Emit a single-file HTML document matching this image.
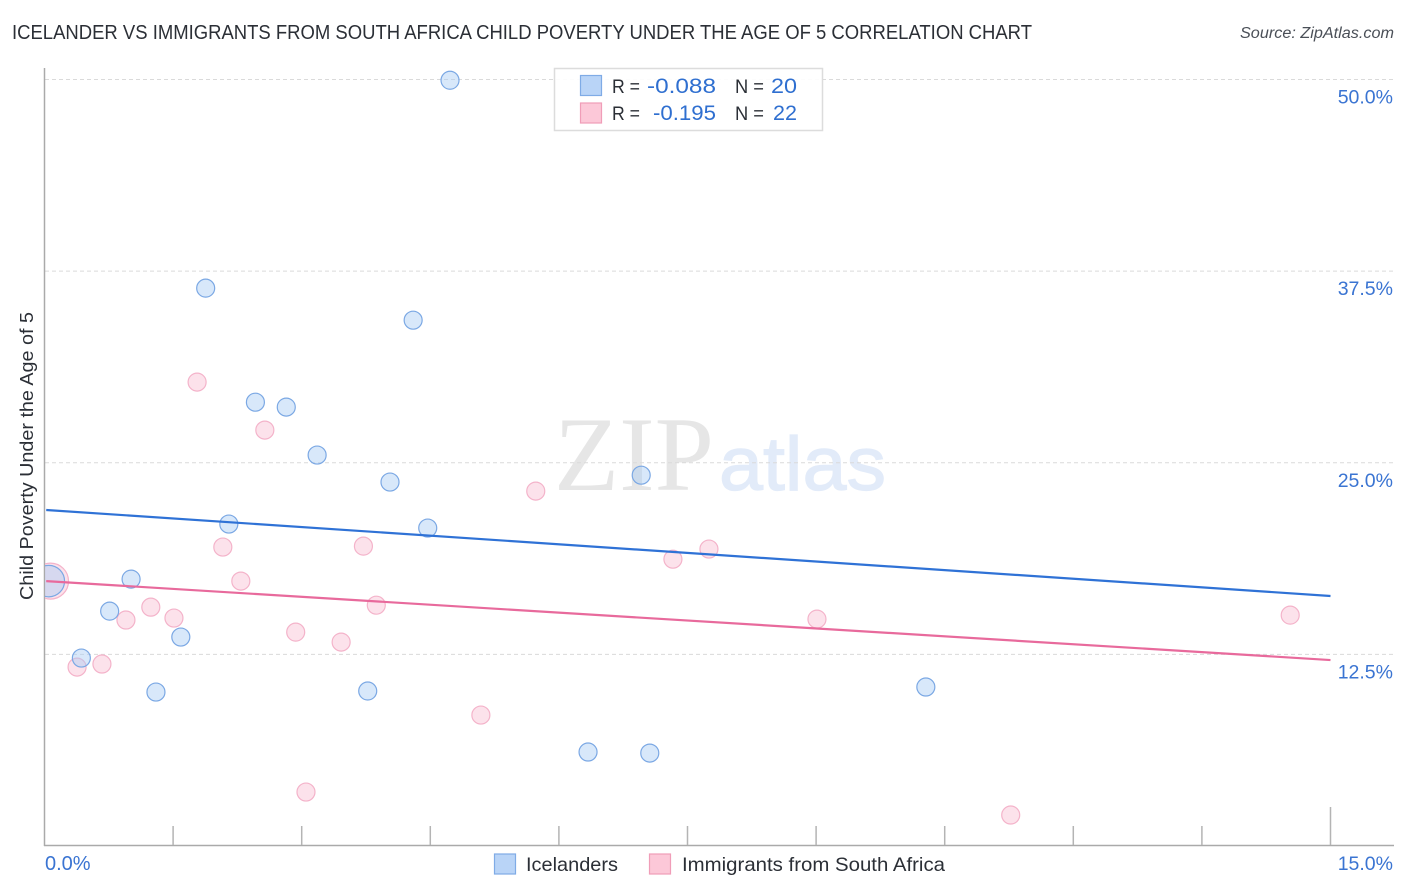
<!DOCTYPE html>
<html lang="en">
<head>
<meta charset="utf-8">
<title>Icelander vs Immigrants from South Africa Child Poverty Correlation Chart</title>
<style>
html,body{margin:0;padding:0;background:#fff;width:1406px;height:892px;overflow:hidden}
svg{display:block}
text{font-family:"Liberation Sans",sans-serif}
</style>
</head>
<body>
<svg id="chart" width="1406" height="892" viewBox="0 0 1406 892" xmlns="http://www.w3.org/2000/svg">
  <defs>
    <clipPath id="plot-clip"><rect x="45" y="60" width="1349" height="786"/></clipPath>
  </defs>
  <rect x="0" y="0" width="1406" height="892" fill="#ffffff"/>
  <text x="12" y="39" font-size="20" fill="#2b2f36" textLength="1020" lengthAdjust="spacingAndGlyphs">ICELANDER VS IMMIGRANTS FROM SOUTH AFRICA CHILD POVERTY UNDER THE AGE OF 5 CORRELATION CHART</text>
  <text x="1394" y="38" font-size="15.5" font-style="italic" fill="#4a4f57" text-anchor="end" textLength="154" lengthAdjust="spacingAndGlyphs">Source: ZipAtlas.com</text>
  <g>
    <text x="554" y="490" font-size="106" fill="#e6e6e6" textLength="160" lengthAdjust="spacingAndGlyphs" style="font-family:'Liberation Serif',serif">ZIP</text>
    <text x="719" y="490" font-size="76" fill="#e2ebf9" stroke="#e2ebf9" stroke-width="1.2" textLength="167" lengthAdjust="spacingAndGlyphs">atlas</text>
  </g>
  <g id="grid"></g>
  <g id="axes"></g>
  <g id="series-pink" clip-path="url(#plot-clip)"></g>
  <g id="series-blue" clip-path="url(#plot-clip)"></g>
  <g id="trends"></g>
  <text transform="translate(33,456) rotate(-90)" font-size="18.5" fill="#2b2f36" text-anchor="middle" textLength="288" lengthAdjust="spacingAndGlyphs">Child Poverty Under the Age of 5</text>
  <g>
    <rect x="554.5" y="68.5" width="268" height="62" fill="#ffffff" fill-opacity="0.9" stroke="#dcdcdc" stroke-width="1.5"/>
    <rect x="580.5" y="75.5" width="21" height="20" fill="#b9d4f7" stroke="#7fabe6" stroke-width="1.2"/>
    <rect x="580.5" y="103" width="21" height="20" fill="#fcc8d8" stroke="#f09db8" stroke-width="1.2"/>
    <text x="612" y="93" font-size="19" fill="#2b2f36" textLength="28" lengthAdjust="spacingAndGlyphs">R =</text>
    <text x="647" y="93" font-size="21" fill="#2f6fd0" textLength="69" lengthAdjust="spacingAndGlyphs">-0.088</text>
    <text x="735" y="93" font-size="19" fill="#2b2f36" textLength="29" lengthAdjust="spacingAndGlyphs">N =</text>
    <text x="771" y="93" font-size="21" fill="#2f6fd0" textLength="26" lengthAdjust="spacingAndGlyphs">20</text>
    <text x="612" y="120" font-size="19" fill="#2b2f36" textLength="28" lengthAdjust="spacingAndGlyphs">R =</text>
    <text x="653" y="120" font-size="21" fill="#2f6fd0" textLength="63" lengthAdjust="spacingAndGlyphs">-0.195</text>
    <text x="735" y="120" font-size="19" fill="#2b2f36" textLength="29" lengthAdjust="spacingAndGlyphs">N =</text>
    <text x="773" y="120" font-size="21" fill="#2f6fd0" textLength="24" lengthAdjust="spacingAndGlyphs">22</text>
  </g>
  <g>
    <rect x="494.5" y="854" width="21" height="20" fill="#b9d4f7" stroke="#7fabe6" stroke-width="1.2"/>
    <text x="526" y="871" font-size="19.5" fill="#2b2f36" textLength="92" lengthAdjust="spacingAndGlyphs">Icelanders</text>
    <rect x="649.5" y="854" width="21" height="20" fill="#fcc8d8" stroke="#f09db8" stroke-width="1.2"/>
    <text x="682" y="871" font-size="19.5" fill="#2b2f36" textLength="263" lengthAdjust="spacingAndGlyphs">Immigrants from South Africa</text>
  </g>
</svg>
<script>
const yTicks = [12.5, 25, 37.5, 50];
const yTickLabels = ["12.5%", "25.0%", "37.5%", "50.0%"];
const xTicks = [0, 1.5, 3, 4.5, 6, 7.5, 9, 10.5, 12, 13.5, 15];
const xEndLabels = ["0.0%", "15.0%"];
const blueX = [4.73, 1.88, 4.30, 2.46, 2.82, 3.18, 4.03, 6.96, 2.15, 4.47, 1.01, 0.76, 1.59, 0.43, 1.30, 3.77, 10.28, 6.34, 7.06, 0.05];
const blueY = [49.95, 36.39, 34.30, 28.95, 28.63, 25.50, 23.74, 24.19, 21.00, 20.74, 17.41, 15.32, 13.63, 12.26, 10.04, 10.11, 10.37, 6.13, 6.06, 17.28];
const pinkX = [1.78, 2.57, 5.73, 7.75, 7.33, 2.08, 3.72, 2.29, 3.87, 1.24, 0.95, 1.51, 2.93, 3.46, 9.01, 14.53, 0.67, 0.38, 5.09, 3.05, 11.27, 0.07];
const pinkY = [30.26, 27.13, 23.15, 19.37, 18.71, 19.50, 19.56, 17.28, 15.71, 15.58, 14.74, 14.87, 13.95, 13.30, 14.80, 15.06, 11.87, 11.67, 8.54, 3.52, 2.02, 17.28];
const blueSizes = [1, 1, 1, 1, 1, 1, 1, 1, 1, 1, 1, 1, 1, 1, 1, 1, 1, 1, 1, 1.75];
const pinkSizes = [1, 1, 1, 1, 1, 1, 1, 1, 1, 1, 1, 1, 1, 1, 1, 1, 1, 1, 1, 1, 1, 2];
const blueTrendX = [0.02, 15];
const blueTrendY = [21.92, 16.31];
const pinkTrendX = [0.02, 15];
const pinkTrendY = [17.28, 12.13];

const NS = "http://www.w3.org/2000/svg";
const sx = function (v) { return 44.5 + v * (1330.5 - 44.5) / 15; };
const sy = function (v) { return 846 - v * (846 - 79.5) / 50; };
const make = function (parent, tag, attrs) {
  const el = document.createElementNS(NS, tag);
  Object.keys(attrs).forEach(function (k) { el.setAttribute(k, attrs[k]); });
  parent.appendChild(el);
  return el;
};

const grid = document.getElementById("grid");
yTicks.forEach(function (t, i) {
  const line = make(grid, "line", {x1: 45, x2: 1394, y1: sy(t), y2: sy(t), stroke: "#dadada", "stroke-width": 1, "stroke-dasharray": "4 3"});
  
  
  const label = make(grid, "text", {x: 1393, y: sy(t) + 24, "font-size": 19.5, fill: "#3a74d2", "text-anchor": "end"});
  
  
  label.textContent = yTickLabels[i];
});

const axes = document.getElementById("axes");
const yAxis = make(axes, "line", {x1: 44.5, x2: 44.5, y1: 68, y2: 846, stroke: "#aaaaaa", "stroke-width": 1.5});


const xAxis = make(axes, "line", {x1: 44, x2: 1394, y1: 845.5, y2: 845.5, stroke: "#aaaaaa", "stroke-width": 1.5});


xTicks.forEach(function (t, i) {
  if (i === 0) return;
  const top = i === xTicks.length - 1 ? 807 : 826;
  const tick = make(axes, "line", {x1: sx(t), x2: sx(t), y1: top, y2: 845, stroke: "#b4b4b4", "stroke-width": 1.5});
  
  
});
const xStart = make(axes, "text", {x: 45, y: 870, "font-size": 20, fill: "#3a74d2"});


xStart.textContent = xEndLabels[0];
const xEnd = make(axes, "text", {x: 1393, y: 870, "font-size": 19.5, fill: "#3a74d2", "text-anchor": "end"});


xEnd.textContent = xEndLabels[1];

const pinkGroup = document.getElementById("series-pink");
pinkX.forEach(function (v, i) {
  const c = make(pinkGroup, "circle", {cx: sx(v), cy: sy(pinkY[i]), r: 9 * pinkSizes[i], fill: "#f9bfd2", "fill-opacity": 0.45, stroke: "#f4b3ca", "stroke-width": 1.2});
  
  
});
const blueGroup = document.getElementById("series-blue");
blueX.forEach(function (v, i) {
  const c = make(blueGroup, "circle", {cx: sx(v), cy: sy(blueY[i]), r: 9 * blueSizes[i], fill: "#a9cbf5", "fill-opacity": 0.45, stroke: "#7ba8e4", "stroke-width": 1.2});
  
  
});

const trends = document.getElementById("trends");
const blueTrend = make(trends, "line", {x1: sx(blueTrendX[0]), y1: sy(blueTrendY[0]), x2: sx(blueTrendX[1]), y2: sy(blueTrendY[1]), stroke: "#2f72d6", "stroke-width": 2.2});


const pinkTrend = make(trends, "line", {x1: sx(pinkTrendX[0]), y1: sy(pinkTrendY[0]), x2: sx(pinkTrendX[1]), y2: sy(pinkTrendY[1]), stroke: "#e86a9c", "stroke-width": 2.2});


</script>
</body>
</html>
